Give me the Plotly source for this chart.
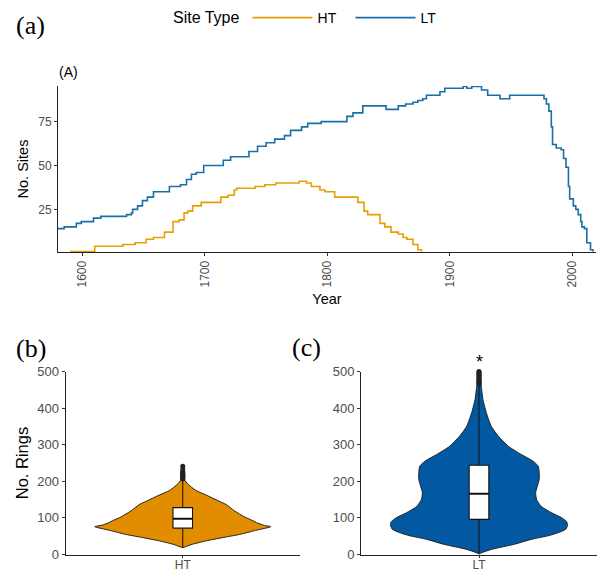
import plotly.graph_objects as go

# ---------------- data ----------------
# (A) number of sites through time, step series
lt_years = [1580, 1585, 1595, 1599, 1609, 1615, 1636, 1640, 1641, 1645, 1649, 1653, 1658,
            1671, 1680, 1685, 1689, 1693, 1699, 1715, 1721, 1736, 1743, 1750, 1757, 1765,
            1770, 1779, 1784, 1795, 1816, 1821, 1829, 1848, 1858, 1864, 1870, 1874, 1878,
            1881, 1892, 1896, 1911, 1914, 1918, 1926, 1931, 1941, 1949, 1977, 1979, 1981,
            1983, 1984, 1987, 1991, 1993, 1995, 1997, 1998, 2001, 2003, 2005, 2007, 2008,
            2010, 2012, 2015, 2017]
lt_sites = [14, 15, 17, 18, 20, 21, 22, 23, 25, 27, 30, 32, 35,
            38, 39, 42, 45, 46, 50, 53, 55, 58, 61, 63, 65, 67,
            70, 72, 74, 75, 78, 80, 84, 82, 84, 85, 86, 87, 88,
            90, 92, 94, 95, 94, 95, 93, 90, 88, 90, 88, 85, 81,
            72, 62, 60, 59, 54, 49, 38, 31, 27, 25, 22, 18, 15,
            14, 6, 2, 1]

ht_years = [1590, 1610, 1633, 1643, 1652, 1658, 1667, 1674, 1679, 1683, 1686, 1690, 1697,
            1713, 1719, 1724, 1726, 1741, 1749, 1758, 1777, 1783, 1787, 1794, 1798, 1806,
            1825, 1830, 1833, 1843, 1847, 1852, 1858, 1862, 1865, 1870, 1874, 1877]
ht_sites = [1, 4, 5, 6, 8, 9, 12, 18, 19, 23, 24, 27, 29,
            32, 33, 36, 37, 38, 39, 40, 41, 40, 38, 36, 35, 32,
            29, 24, 22, 17, 15, 12, 11, 9, 8, 5, 2, 1]

# (B)/(C) ring-count distributions: relative violin density read at ring values
ht_ring_levels = [19, 22, 28, 37, 46, 55, 66, 76, 80, 87, 92, 103, 119, 137, 146, 162, 175,
                  192, 205, 220, 241]
ht_density = [0.0, 0.04, 0.11, 0.26, 0.45, 0.65, 0.83, 1.0, 0.92, 0.84, 0.80, 0.70, 0.59,
              0.49, 0.41, 0.27, 0.15, 0.06, 0.02, 0.012, 0.0]

lt_ring_levels = [1, 5, 14, 28, 42, 51, 60, 69, 80, 90, 101, 114, 132, 151, 169, 187, 205,
                  223, 241, 255, 273, 296, 323, 350, 387, 423, 459, 480, 500]
lt_density = [0.0, 0.03, 0.14, 0.40, 0.60, 0.78, 0.90, 0.98, 1.0, 0.99, 0.93, 0.82, 0.70,
              0.65, 0.64, 0.66, 0.68, 0.68, 0.67, 0.61, 0.48, 0.33, 0.22, 0.14, 0.083,
              0.045, 0.026, 0.017, 0.0]

# box statistics: q1, median, q3, lower whisker, upper whisker
ht_box = dict(q1=72, median=98, q3=128, lowerfence=20, upperfence=204)
lt_box = dict(q1=96, median=166, q3=244, lowerfence=2, upperfence=464)
ht_outliers = [206, 208, 210, 212, 214, 216, 218, 220, 223, 226, 232, 241]
lt_outliers = [466, 469, 472, 475, 478, 481, 484, 487, 490, 493, 496, 498, 500]

site_types = ["HT", "LT"]
line_colors = {"HT": "#E69F00", "LT": "#1A6FA6"}
violin_fill = {"HT": "#E28C00", "LT": "#0259A1"}

SANS = "Liberation Sans, Arial, sans-serif"
SERIF = "Liberation Serif, Times New Roman, serif"
TICK_GREY = "#4D4D4D"

fig = go.Figure()

# ---------------- top panel ----------------
fig.add_trace(go.Scatter(x=ht_years, y=ht_sites, mode="lines", name="HT",
                         line=dict(color=line_colors["HT"], width=1.6, shape="hv"),
                         xaxis="x", yaxis="y"))
fig.add_trace(go.Scatter(x=lt_years, y=lt_sites, mode="lines", name="LT",
                         line=dict(color=line_colors["LT"], width=1.6, shape="hv"),
                         xaxis="x", yaxis="y"))

# ---------------- violins + boxes ----------------
HALF = 0.45      # max violin half-width in category units
BOX_HALF = 0.05  # box half-width in category units


def violin_polygon(levels, dens):
    xs = [1 + HALF * d for d in dens] + [1 - HALF * d for d in reversed(dens)]
    ys = list(levels) + list(reversed(levels))
    return xs, ys


for key, levels, dens, box, outs, xa, ya in [
        ("HT", ht_ring_levels, ht_density, ht_box, ht_outliers, "x2", "y2"),
        ("LT", lt_ring_levels, lt_density, lt_box, lt_outliers, "x3", "y3")]:
    vx, vy = violin_polygon(levels, dens)
    fig.add_trace(go.Scatter(x=vx, y=vy, mode="lines", fill="toself",
                             fillcolor=violin_fill[key],
                             line=dict(color="#222222", width=1, shape="spline", smoothing=0.6),
                             xaxis=xa, yaxis=ya, showlegend=False, hoverinfo="skip"))
    # whiskers
    fig.add_trace(go.Scatter(x=[1, 1, None, 1, 1],
                             y=[box["lowerfence"], box["q1"], None, box["q3"], box["upperfence"]],
                             mode="lines", line=dict(color="#111111", width=1),
                             xaxis=xa, yaxis=ya, showlegend=False, hoverinfo="skip"))
    # box body
    l, r = 1 - BOX_HALF, 1 + BOX_HALF
    fig.add_trace(go.Scatter(x=[l, r, r, l, l],
                             y=[box["q1"], box["q1"], box["q3"], box["q3"], box["q1"]],
                             mode="lines", fill="toself", fillcolor="white",
                             line=dict(color="#111111", width=1.1),
                             xaxis=xa, yaxis=ya, showlegend=False, hoverinfo="skip"))
    # median
    fig.add_trace(go.Scatter(x=[l, r], y=[box["median"], box["median"]], mode="lines",
                             line=dict(color="#111111", width=2),
                             xaxis=xa, yaxis=ya, showlegend=False, hoverinfo="skip"))
    # outliers
    fig.add_trace(go.Scatter(x=[1] * len(outs), y=outs, mode="markers",
                             marker=dict(color="#222222", size=5),
                             xaxis=xa, yaxis=ya, showlegend=False, cliponaxis=False))

# ---------------- axes ----------------
W, H = 597, 571


def px_x(a, b):
    return [a / W, b / W]


def px_y(top, bottom):
    return [1 - bottom / H, 1 - top / H]


axis_common = dict(showline=True, linecolor="#222222", linewidth=1, ticks="outside",
                   ticklen=3, tickcolor="#333333", showgrid=False, zeroline=False,
                   automargin=False,
                   tickfont=dict(family=SANS, size=12, color=TICK_GREY))
bottom_font = dict(family=SANS, size=13, color=TICK_GREY)
cat_font = dict(family=SANS, size=12, color=TICK_GREY)

fig.update_layout(
    xaxis=dict(domain=px_x(58, 596), range=[1580, 2019.5], anchor="y",
               tickvals=[1600, 1700, 1800, 1900, 2000], tickangle=-90,
               title=dict(text="Year", font=dict(family=SANS, size=14.5, color="black"), standoff=7),
               **axis_common),
    yaxis=dict(domain=px_y(86, 252), range=[0.7, 95.3], anchor="x",
               tickvals=[25, 50, 75],
               title=dict(text="No. Sites", font=dict(family=SANS, size=14.5, color="black"), standoff=6),
               **axis_common),
    xaxis2=dict(domain=px_x(65.5, 300), range=[0.4, 1.6], anchor="y2",
                tickvals=[1], ticktext=["HT"], ticklabelstandoff=-3,
                **{**axis_common, "tickfont": cat_font, "ticklen": 2}),
    yaxis2=dict(domain=px_y(371.5, 554.5), range=[0, 500], anchor="x2",
                tickvals=[0, 100, 200, 300, 400, 500],
                title=dict(text="No. Rings", font=dict(family=SANS, size=16.5, color="black"), standoff=4),
                **{**axis_common, "tickfont": bottom_font}),
    xaxis3=dict(domain=px_x(361, 597), range=[0.4, 1.6], anchor="y3",
                tickvals=[1], ticktext=["LT"], ticklabelstandoff=-3,
                **{**axis_common, "tickfont": cat_font, "ticklen": 2}),
    yaxis3=dict(domain=px_y(371.5, 554.5), range=[0, 500], anchor="x3",
                tickvals=[0, 100, 200, 300, 400, 500],
                **{**axis_common, "tickfont": bottom_font}),
)

fig.update_layout(
    width=W, height=H,
    margin=dict(l=0, r=0, t=0, b=0, autoexpand=False),
    paper_bgcolor="white", plot_bgcolor="white",
    showlegend=True,
    legend=dict(orientation="h", x=171 / W, xanchor="left", y=1 - 18 / H, yanchor="middle",
                title=dict(text="Site Type", font=dict(family=SANS, size=16, color="black"), side="left"),
                font=dict(family=SANS, size=14, color="black"),
                itemwidth=60, entrywidth=28, bgcolor="rgba(0,0,0,0)"),
    annotations=[
        dict(text="(a)", x=14 / W, y=1 - 25 / H, xref="paper", yref="paper", xanchor="left",
             yanchor="middle", showarrow=False, font=dict(family=SERIF, size=26, color="black")),
        dict(text="(b)", x=14 / W, y=1 - 348 / H, xref="paper", yref="paper", xanchor="left",
             yanchor="middle", showarrow=False, font=dict(family=SERIF, size=26, color="black")),
        dict(text="(c)", x=290 / W, y=1 - 347 / H, xref="paper", yref="paper", xanchor="left",
             yanchor="middle", showarrow=False, font=dict(family=SERIF, size=26, color="black")),
        dict(text="(A)", x=57 / W, y=1 - 72 / H, xref="paper", yref="paper", xanchor="left",
             yanchor="middle", showarrow=False, font=dict(family=SANS, size=14, color="black")),
        dict(text="*", x=1, y=1 - 362 / H, xref="x3", yref="paper", xanchor="center",
             yanchor="middle", showarrow=False, font=dict(family=SANS, size=18, color="black")),
    ],
)

fig.write_html("out.html", config={"displayModeBar": False},
               post_script="document.body.style.margin='0px';document.body.style.overflow='hidden';")
